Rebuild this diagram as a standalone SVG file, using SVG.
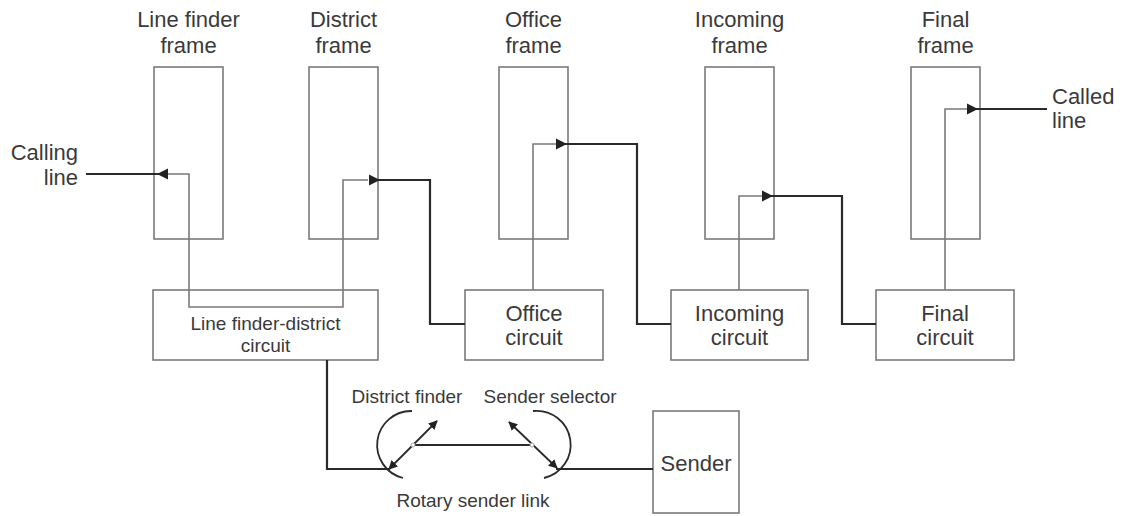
<svg xmlns="http://www.w3.org/2000/svg" xmlns:xlink="http://www.w3.org/1999/xlink" width="1122" height="516" viewBox="0 0 1122 516">
<style>
.box{fill:#fff;stroke:#7a7a7a;stroke-width:1.6}
.t{font-family:"Liberation Sans",Arial,sans-serif;font-size:22px;fill:#3a3a3a;text-anchor:middle}
.s{font-family:"Liberation Sans",Arial,sans-serif;font-size:19px;fill:#3a3a3a;text-anchor:middle}
.thin{fill:none;stroke:#7a7a7a;stroke-width:1.6}
.thick{fill:none;stroke:#2a2a2a;stroke-width:2.2}
.rot{fill:none;stroke:#2a2a2a;stroke-width:1.8}
.ah{fill:#222}
</style>
<defs>
<path id="ah" d="M0,0 L-11,-5.5 L-11,5.5 Z"/>
<marker id="sm" viewBox="0 0 10 10" refX="9" refY="5" markerWidth="9" markerHeight="9" markerUnits="userSpaceOnUse" orient="auto-start-reverse">
<path d="M0,0 L10,5 L0,10 Z" fill="#222"/>
</marker>
</defs>
<rect width="1122" height="516" fill="#fff"/>

<g id="line-finder-frame">
<rect class="box" x="154" y="67" width="69" height="172"/>
<text class="t" x="188.5" y="27">Line finder</text>
<text class="t" x="188.5" y="53">frame</text>
</g>
<g id="district-frame">
<rect class="box" x="309" y="67" width="69" height="172"/>
<text class="t" x="343.5" y="27">District</text>
<text class="t" x="343.5" y="53">frame</text>
</g>
<g id="office-frame">
<rect class="box" x="499" y="67" width="69" height="172"/>
<text class="t" x="533.5" y="27">Office</text>
<text class="t" x="533.5" y="53">frame</text>
</g>
<g id="incoming-frame">
<rect class="box" x="705" y="67" width="69" height="172"/>
<text class="t" x="739.5" y="27">Incoming</text>
<text class="t" x="739.5" y="53">frame</text>
</g>
<g id="final-frame">
<rect class="box" x="911" y="67" width="69" height="172"/>
<text class="t" x="945.5" y="27">Final</text>
<text class="t" x="945.5" y="53">frame</text>
</g>

<g id="line-finder-district-circuit">
<rect class="box" x="153" y="290" width="225" height="70"/>
<text class="s" x="265.5" y="330">Line finder-district</text>
<text class="s" x="265.5" y="352">circuit</text>
</g>
<g id="office-circuit">
<rect class="box" x="465" y="290" width="138" height="70"/>
<text class="t" x="534" y="321">Office</text>
<text class="t" x="534" y="345">circuit</text>
</g>
<g id="incoming-circuit">
<rect class="box" x="671" y="290" width="137" height="70"/>
<text class="t" x="739.5" y="321">Incoming</text>
<text class="t" x="739.5" y="345">circuit</text>
</g>
<g id="final-circuit">
<rect class="box" x="876" y="290" width="138" height="70"/>
<text class="t" x="945" y="321">Final</text>
<text class="t" x="945" y="345">circuit</text>
</g>
<g id="sender">
<rect class="box" x="653" y="411" width="86" height="102"/>
<text class="t" x="696" y="471">Sender</text>
</g>

<g id="calling-line">
<text class="t" x="78" y="160" style="text-anchor:end">Calling</text>
<text class="t" x="78" y="185" style="text-anchor:end">line</text>
</g>
<g id="called-line">
<text class="t" x="1052" y="104" style="text-anchor:start">Called</text>
<text class="t" x="1052" y="128" style="text-anchor:start">line</text>
</g>

<g id="rotary-sender-link">
<text class="s" x="407" y="403">District finder</text>
<text class="s" x="550" y="403">Sender selector</text>
<text class="s" x="473" y="507">Rotary sender link</text>
<path class="rot" d="M412,411 A34,34 0 0 0 403,478"/>
<path class="rot" d="M533,411 A34,34 0 0 1 544,478"/>
<path class="rot" d="M413,445 H532"/>
<path class="rot" d="M437,421 L389,469" marker-start="url(#sm)" marker-end="url(#sm)"/>
<path class="rot" d="M509,422 L557,468" marker-start="url(#sm)" marker-end="url(#sm)"/>
<circle cx="413" cy="445" r="2" fill="#fff" stroke="#aaa" stroke-width="1"/>
<circle cx="532" cy="445" r="2" fill="#fff" stroke="#aaa" stroke-width="1"/>
</g>

<g id="connectors">
<path class="thick" d="M86,174 H160"/>
<path class="thin" d="M166,174 H189 V307 H343 V180 H368"/>
<path class="thick" d="M376,180 H430 V324 H465"/>
<path class="thin" d="M533,290 V144 H556"/>
<path class="thick" d="M564,144 H637 V324 H671"/>
<path class="thin" d="M739,290 V196 H762"/>
<path class="thick" d="M770,196 H842 V324 H876"/>
<path class="thin" d="M945,290 V109 H968"/>
<path class="thick" d="M976,109 H1047"/>
<path class="thick" d="M327,360 V469 H390"/>
<path class="thick" d="M556,469 H653"/>
<use href="#ah" class="ah" transform="translate(157,174) rotate(180)"/>
<use href="#ah" class="ah" transform="translate(380,180)"/>
<use href="#ah" class="ah" transform="translate(567,144)"/>
<use href="#ah" class="ah" transform="translate(773,196)"/>
<use href="#ah" class="ah" transform="translate(978,109)"/>
</g>
</svg>
